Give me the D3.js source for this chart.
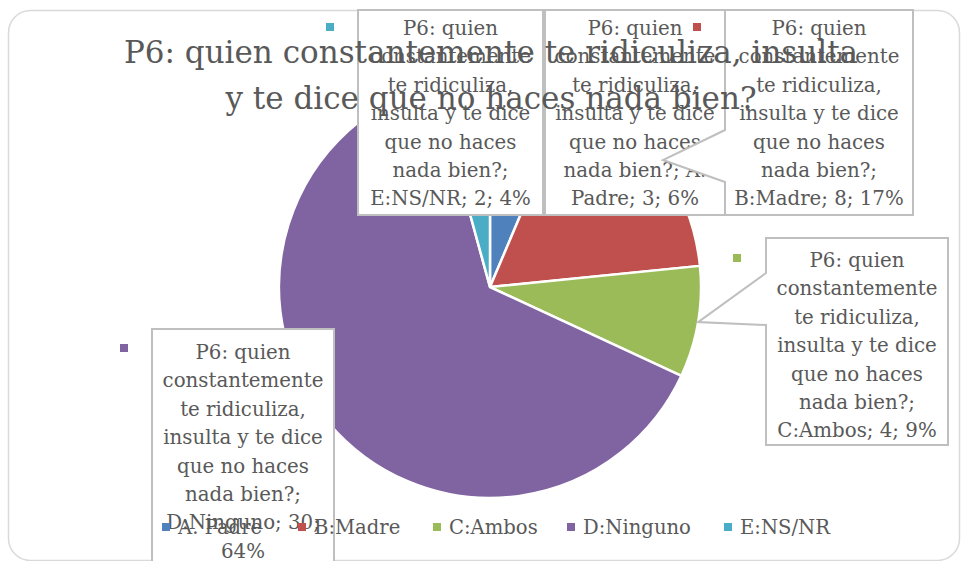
<!DOCTYPE html>
<head>
  <style>
    body { margin: 0; background: #fff; }
    text { font-family: "DejaVu Serif", serif; fill: #595959; }
    .title { font-size: 31px; }
    .lbl { font-size: 19.8px; }
    .legend text { font-size: 19.6px; }
  </style>
  <title>P6</title>
</head>
<body>
  <script src="https://cdn.jsdelivr.net/npm/d3@7"></script>
  <script>
    // data
    const categories = ["A. Padre", "B:Madre", "C:Ambos", "D:Ninguno", "E:NS/NR"];
    const counts = [3, 8, 4, 30, 2];
    const percents = ["6%", "17%", "9%", "64%", "4%"];
    const colors = ["#4f81bd", "#c0504d", "#9bbb59", "#8064a2", "#4bacc6"];
    const titleLines = ["P6: quien constantemente te ridiculiza, insulta", "y te dice que no haces nada bien?"];
    const labelLines = [
      ["P6: quien", "constantemente", "te ridiculiza,", "insulta y te dice", "que no haces", "nada bien?; A.", "Padre; 3; 6%"],
      ["P6: quien", "constantemente", "te ridiculiza,", "insulta y te dice", "que no haces", "nada bien?;", "B:Madre; 8; 17%"],
      ["P6: quien", "constantemente", "te ridiculiza,", "insulta y te dice", "que no haces", "nada bien?;", "C:Ambos; 4; 9%"],
      ["P6: quien", "constantemente", "te ridiculiza,", "insulta y te dice", "que no haces", "nada bien?;", "D:Ninguno; 30;", "64%"],
      ["P6: quien", "constantemente", "te ridiculiza,", "insulta y te dice", "que no haces", "nada bien?;", "E:NS/NR; 2; 4%"]
    ];

    const W = 961, H = 561;
    const cx = 490, cy = 287, r = 211;

    const svg = d3.select("body").append("svg")
      .attr("width", W)
      .attr("height", H);

    // chart area border
    svg.append("rect")
      .attr("x", 8.5).attr("y", 10.5)
      .attr("width", 951).attr("height", 550)
      .attr("rx", 22)
      .attr("fill", "#fff")
      .attr("stroke", "#d9d9d9")
      .attr("stroke-width", 1.5);

    const data = categories.map((c, i) => ({ cat: c, count: counts[i], pct: percents[i], color: colors[i], lines: labelLines[i] }));

    const pie = d3.pie().value(d => d.count).sort(null);
    const arcs = pie(data);
    const arc = d3.arc().innerRadius(0).outerRadius(r);

    const g = svg.append("g").attr("transform", `translate(${cx},${cy})`);
    g.selectAll("path")
      .data(arcs)
      .enter()
      .append("path")
      .attr("d", arc)
      .attr("fill", d => d.data.color)
      .attr("stroke", "#fff")
      .attr("stroke-width", 2.5)
      .attr("stroke-linejoin", "round");

    // callout boxes (layout only), drawn in slice order
    const boxes = [
      { x: 545, y: 10, w: 180, h: 205, top: 18, marker: null },
      { x: 725, y: 10, w: 188, h: 205, top: 18, pointer: "left", p1: 130, p2: 182, tip: [663, 160], marker: [697, 27] },
      { x: 766, y: 238, w: 182, h: 207, top: 22, pointer: "left", p1: 273, p2: 325, tip: "edge", marker: [737, 258] },
      { x: 152, y: 329, w: 182, h: 250, top: 23, marker: [124, 348] },
      { x: 358, y: 10, w: 185, h: 205, top: 18, marker: [330, 27] }
    ];

    const lab = svg.append("g").attr("class", "labels");
    arcs.forEach((a, i) => {
      const b = boxes[i];
      let tip = b.tip;
      if (tip === "edge") {
        const mid = (a.startAngle + a.endAngle) / 2;
        tip = [cx + r * Math.sin(mid), cy - r * Math.cos(mid)];
      }
      let path;
      const x0 = b.x, y0 = b.y, x1 = b.x + b.w, y1 = b.y + b.h;
      if (b.pointer === "left") {
        path = `M${x0},${y0}H${x1}V${y1}H${x0}V${b.p2}L${tip[0]},${tip[1]}L${x0},${b.p1}Z`;
      } else {
        path = `M${x0},${y0}H${x1}V${y1}H${x0}Z`;
      }
      lab.append("path")
        .attr("d", path)
        .attr("fill", "#fff")
        .attr("stroke", "#bfbfbf")
        .attr("stroke-width", 2);
      const t = lab.append("text")
        .attr("class", "lbl")
        .attr("text-anchor", "middle");
      a.data.lines.forEach((ln, k) => {
        t.append("tspan")
          .attr("x", x0 + b.w / 2)
          .attr("y", y0 + b.top + 7 + k * 28.4)
          .text(ln);
      });
      if (b.marker) {
        lab.append("rect")
          .attr("x", b.marker[0] - 4).attr("y", b.marker[1] - 4)
          .attr("width", 8).attr("height", 8)
          .attr("fill", a.data.color);
      }
    });

    // title
    const title = svg.append("text")
      .attr("class", "title")
      .attr("text-anchor", "middle");
    titleLines.forEach((ln, k) => {
      title.append("tspan")
        .attr("x", 491)
        .attr("y", 63 + k * 46)
        .text(ln);
    });

    // legend
    const legendX = [162, 298, 433, 567, 724];
    const leg = svg.append("g").attr("class", "legend");
    data.forEach((d, i) => {
      leg.append("rect")
        .attr("x", legendX[i]).attr("y", 523)
        .attr("width", 8).attr("height", 8)
        .attr("fill", d.color);
      leg.append("text")
        .attr("x", legendX[i] + 16)
        .attr("y", 534)
        .text(d.cat);
    });
  </script>
</body>
